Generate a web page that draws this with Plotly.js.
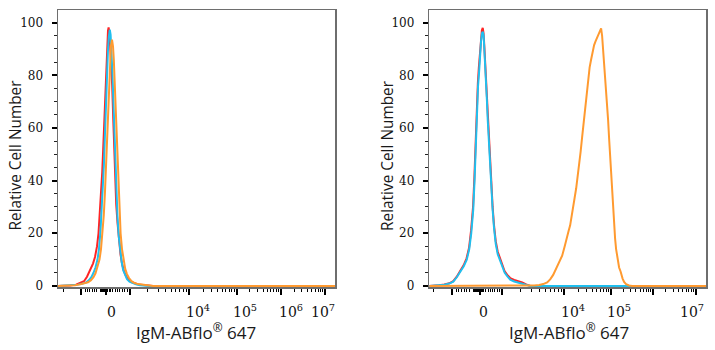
<!DOCTYPE html>
<html>
<head>
<meta charset="utf-8">
<script src="https://cdn.plot.ly/plotly-3.0.1.min.js"></script>
<style>
  html, body { margin: 0; padding: 0; background: #fff; }
  #chart { width: 715px; height: 350px; }
</style>
</head>
<body>
<div id="chart"></div>
<script>
// Histogram overlays on a biexponential display scale.
// x values are display channels (0–277 across the axis), y is relative cell number.

// ---- Left panel ----
const leftRedX = [0, 5, 12, 18, 22, 26, 29, 31, 33, 35, 37, 39, 40.5, 42, 43.2, 44.2, 45.2, 46.2, 47.2, 48.2,
  49.2, 50, 50.6, 51.3, 52.2, 53.2, 54.2, 55.2, 56.2, 57.2, 58.2, 59.5, 61, 62.5, 64, 66, 68, 70.5, 73.5, 77,
  80, 85, 90, 95, 277];
const leftRedY = [0, 0, 0.2, 0.5, 1, 1.8, 3.5, 5, 6.5, 8.5, 11, 15, 20, 28, 36, 43, 52, 62, 76, 86,
  93, 97, 98.2, 96.5, 91, 84, 76, 64, 51, 40, 31, 24, 17, 12, 8.5, 5.5, 3.8, 2.5, 1.5, 0.9,
  0.6, 0.4, 0.2, 0, 0];

const leftCyanX = [0, 8, 15, 20, 24, 28, 31, 33.5, 35.5, 37.5, 39.5, 41, 42.5, 43.8, 44.9, 45.9, 46.9, 47.9, 48.9, 49.9,
  50.8, 51.8, 52.6, 53.4, 54.4, 55.4, 56.4, 57.4, 58.4, 59.5, 60.7, 62.2, 63.7, 65.2, 67, 69, 71.5, 74.5, 78, 82,
  87, 92, 277];
const leftCyanY = [0, 0.1, 0.3, 0.5, 0.8, 1.3, 2.2, 3.4, 5, 7, 10, 14, 21, 29, 37, 46, 57, 69, 80, 89,
  94.5, 97.3, 95.5, 90, 81, 70, 57, 45, 35, 26, 19, 13, 9, 6, 4, 2.6, 1.6, 1, 0.6, 0.3,
  0.1, 0, 0];

const leftOrangeX = [0, 10, 17, 22, 26, 30, 33, 35.5, 37.5, 39.5, 41.5, 43, 44.5, 45.8, 46.9, 47.9, 48.9, 49.9, 50.9, 51.9,
  52.9, 54, 55, 55.8, 56.6, 57.5, 58.4, 59.3, 60.3, 61.4, 62.6, 64, 65.5, 67.2, 69, 71, 73.5, 76.5, 80, 84,
  88, 91, 95, 277];
const leftOrangeY = [0, 0.1, 0.3, 0.6, 0.9, 1.4, 2.2, 3.3, 4.8, 7, 10, 14, 20, 27, 35, 44, 54, 65, 76, 85,
  91, 93.5, 91, 86, 78, 68, 57, 46, 36, 27, 20, 14, 9.5, 6.5, 4.5, 3, 1.8, 1.1, 0.7, 0.5,
  0.4, 0.2, 0, 0];

// ---- Right panel ----
const rightRedX = [0, 5, 10, 15, 20, 24, 27.5, 31, 34.5, 37.3, 39.8, 41.8, 43.8, 45.1, 46.2, 47.4, 48.6, 49.6, 50.6, 51.6,
  52.6, 53.5, 54.3, 55.1, 55.9, 56.7, 57.5, 58.4, 59.2, 59.9, 60.9, 62.1, 63.4, 64.8, 66.5, 68.5, 70.7, 73, 75.5, 78,
  81, 85, 89, 93, 97, 101, 277];
const rightRedY = [0, 0.1, 0.3, 0.6, 1, 1.8, 3.5, 5.8, 7.9, 10.5, 14.5, 21, 30, 41, 55, 67, 77, 83, 89, 94,
  97, 98, 96, 91, 85, 79, 72, 64, 58, 53, 45, 36, 30, 23, 17, 13, 10.5, 7.5, 5.5, 4.2,
  3, 2.3, 1.9, 1.3, 0.6, 0, 0];

const rightCyanX = [0, 5, 10, 15, 20, 24, 27.5, 31, 34.5, 37.5, 40, 42, 44, 45.3, 46.4, 47.6, 48.8, 49.8, 50.8, 51.8,
  52.8, 53.6, 54.4, 55.2, 56, 56.8, 57.6, 58.5, 59.3, 60, 61, 62.2, 63.4, 64.8, 66.5, 68.5, 70.7, 73, 75.5, 78,
  81, 85, 89, 93, 97, 101, 277];
const rightCyanY = [0, 0.1, 0.3, 0.5, 0.9, 1.6, 3.3, 5.5, 7.5, 10, 14, 20, 29, 40, 54, 66, 76, 81, 88, 93,
  96, 96.6, 95, 90, 84, 78, 71, 63, 57, 52, 44, 35, 29, 22, 16, 12, 9.9, 7, 5, 3.7,
  2.4, 1.7, 1.3, 0.8, 0.3, 0, 0];

const rightOrangeX = [0, 95, 100, 105, 110, 114, 118, 121, 124, 127, 130, 133, 135.5, 137.5, 139.5, 141, 142.5, 144, 145.5, 147,
  148.5, 150, 151.5, 153, 154.5, 156, 157.5, 159, 160.5, 162, 163.5, 165, 166.5, 168, 169.5, 171, 172, 173, 174, 175,
  176, 177, 178, 179, 180, 181, 182, 183, 184, 185, 186, 187, 188.5, 190, 191.5, 192.5, 193.5, 195, 197, 200,
  203, 277];
const rightOrangeY = [0, 0, 0.1, 0.2, 0.4, 0.7, 1.3, 2.5, 4.2, 6.8, 9, 11.5, 15, 18.5, 21, 23, 26, 29.5, 33.5, 37,
  41, 46, 51, 56.5, 62, 68, 74, 79, 83, 86, 89, 91.5, 93, 94.5, 96, 97, 97.8, 95, 90, 85,
  80, 75, 69, 63, 56, 49, 42, 35, 29, 23, 18, 14, 10, 7, 5.5, 4, 2.8, 1.5, 0.7, 0.2,
  0, 0];

// ---- Tick labels ----
const yTickVals = [0, 20, 40, 60, 80, 100];
const yTickText = ['0', '20', '40', '60', '80', '100'];
const leftXLabels = ['0', '10<sup>4</sup>', '10<sup>5</sup>', '10<sup>6</sup>', '10<sup>7</sup>'];
const rightXLabels = ['0', '10<sup>4</sup>', '10<sup>5</sup>', '10<sup>7</sup>'];

const xTitle = 'IgM-ABflo<sup>®</sup> 647';
const yTitle = 'Relative Cell Number';

const colors = { red: '#ff2424', cyan: '#20bfee', orange: '#ff9a30' };

// ---- Geometry ----
const W = 715, H = 350;
const leftDom = [58 / W, 335 / W];
const rightDom = [429.3 / W, 706 / W];
const yDom = [(H - 287) / H, (H - 10) / H];
const xRange = [0, 277];
const yRange = [-0.4, 104.8];

// Channel positions of the scale's decades for each panel
const leftScale = { neg: 23, zero: 48, pos: 72, dec: [131, 178.5, 222.7, 267] };
const rightScale = { neg: 22.4, zero: 50.7, pos: 72.4, dec: [135, 181.5, 223.7, 266.5] };
const leftLabelPos = [53, 140, 187, 232.8, 264.5];
const rightLabelPos = [54, 143.7, 189.7, 263.2];

function tickSet(p) {
  const major = [p.neg, p.zero, p.pos].concat(p.dec);
  const minor = [p.neg - 18];
  [0.16, 0.25, 0.34, 0.44, 0.53, 0.62, 0.76, 0.8, 0.84, 0.88, 0.92, 0.96]
    .forEach(f => minor.push(p.neg + (p.zero - p.neg) * f));
  [0.04, 0.08, 0.125, 0.17, 0.27, 0.375, 0.48, 0.58, 0.69, 0.79, 0.9]
    .forEach(f => minor.push(p.zero + (p.pos - p.zero) * f));
  const decs = [p.pos].concat(p.dec);
  for (let i = 0; i < decs.length - 1; i++) {
    for (let k = 2; k <= 9; k++) minor.push(decs[i] + (decs[i + 1] - decs[i]) * Math.log10(k));
  }
  return { major, minor };
}

const frame = '#6e6e6e';
const serif = 'DejaVu Serif';

function xAxis(dom, anchor, p) {
  const t = tickSet(p);
  return {
    domain: dom, range: xRange, anchor: anchor, fixedrange: true,
    showgrid: false, zeroline: false,
    showline: true, linecolor: frame, linewidth: 1.5, mirror: true,
    ticks: 'outside', tickmode: 'array', tickvals: t.major,
    ticklen: 6, tickwidth: 2, tickcolor: '#000', showticklabels: false,
    minor: { tickmode: 'array', tickvals: t.minor, ticks: 'outside', ticklen: 3, tickwidth: 1, tickcolor: '#000', showgrid: false }
  };
}

function yAxis(anchor) {
  return {
    domain: yDom, range: yRange, anchor: anchor, fixedrange: true,
    showgrid: false, zeroline: false,
    showline: true, linecolor: frame, linewidth: 1.5, mirror: true,
    ticks: 'outside', tickmode: 'array', tickvals: yTickVals, ticktext: yTickText,
    ticklen: 5, tickwidth: 2, tickcolor: '#000',
    tickfont: { family: serif, size: 12, color: '#111' },
    ticklabelstandoff: 6,
    minor: { tick0: 0, dtick: 5, ticks: 'outside', ticklen: 3, tickwidth: 1, tickcolor: '#222', showgrid: false }
  };
}

function curve(x, y, color, xa, ya) {
  return { type: 'scatter', mode: 'lines', x: x, y: y, xaxis: xa, yaxis: ya,
    line: { color: color, width: 2 }, hoverinfo: 'skip', showlegend: false };
}

const traces = [
  curve(leftRedX, leftRedY, colors.red, 'x', 'y'),
  curve(leftCyanX, leftCyanY, colors.cyan, 'x', 'y'),
  curve(leftOrangeX, leftOrangeY, colors.orange, 'x', 'y'),
  curve(rightRedX, rightRedY, colors.red, 'x2', 'y2'),
  curve(rightCyanX, rightCyanY, colors.cyan, 'x2', 'y2'),
  curve(rightOrangeX, rightOrangeY, colors.orange, 'x2', 'y2')
];

// Decade labels under the bottom axes, set on the axis channel scale
function tickLabels(xref, positions, texts) {
  return texts.map((t, i) => ({
    text: t, xref: xref, yref: 'paper', x: positions[i], y: 1 - 321.5 / H,
    xanchor: 'center', yanchor: 'bottom', showarrow: false,
    font: { family: serif, size: 14, color: '#111' }
  }));
}

function title(text, xpx, ypx, angle, size) {
  return { text: text, xref: 'paper', yref: 'paper', x: xpx / W, y: 1 - ypx / H,
    xanchor: 'center', yanchor: 'middle', showarrow: false, textangle: angle,
    font: { family: 'Open Sans', size: size, color: '#1a1a1a' } };
}

const layout = {
  width: W, height: H,
  margin: { l: 0, r: 0, t: 0, b: 0, pad: 0 },
  paper_bgcolor: '#fff', plot_bgcolor: '#fff',
  showlegend: false,
  xaxis: xAxis(leftDom, 'y', leftScale),
  yaxis: yAxis('x'),
  xaxis2: xAxis(rightDom, 'y2', rightScale),
  yaxis2: yAxis('x2'),
  annotations: [].concat(
    tickLabels('x', leftLabelPos, leftXLabels),
    tickLabels('x2', rightLabelPos, rightXLabels),
    [
      title(yTitle, 15, 155.5, -90, 15.4),
      title(yTitle, 387.5, 155.5, -90, 15.4),
      title(xTitle, 196, 331, 0, 17),
      title(xTitle, 569, 331, 0, 17)
    ]
  )
};

Plotly.newPlot('chart', traces, layout, { staticPlot: true, displayModeBar: false });
</script>
</body>
</html>
